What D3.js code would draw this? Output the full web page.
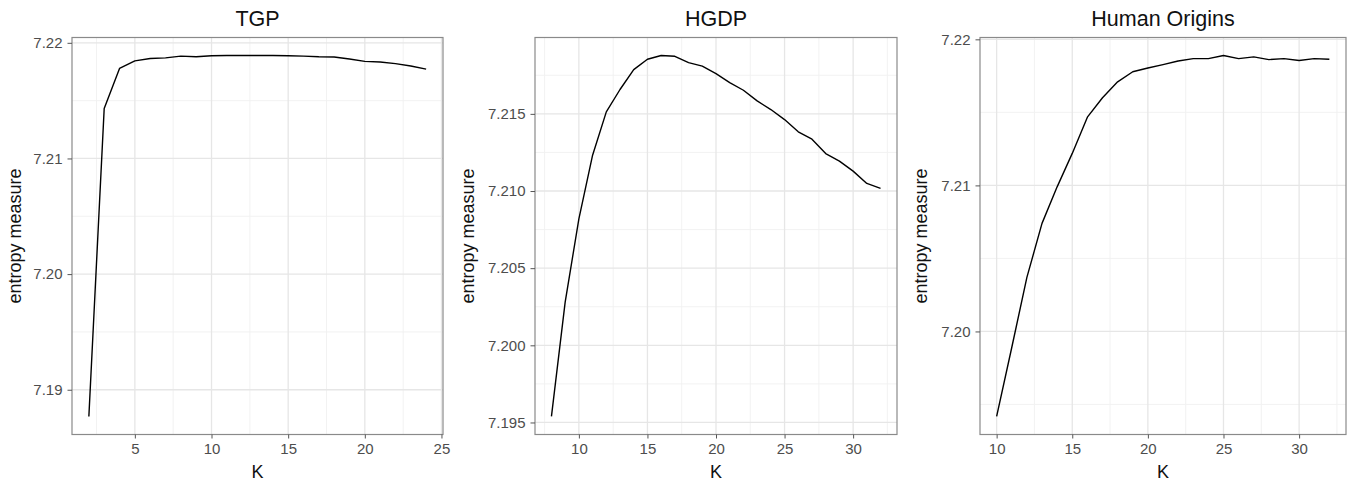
<!DOCTYPE html>
<html>
<head>
<meta charset="utf-8">
<script src="https://cdn.jsdelivr.net/npm/d3@7"></script>
<style>
  html, body { margin: 0; padding: 0; background: #fff; }
  svg { display: block; font-family: "Liberation Sans", Arial, Helvetica, sans-serif; }
</style>
</head>
<body>
<svg id="chart" width="1356" height="481"></svg>
<script>
// ---- data ----
const tgpK = [2,3,4,5,6,7,8,9,10,11,12,13,14,15,16,17,18,19,20,21,22,23,24];
const tgpEntropy = [7.18769,7.21432,7.21778,7.21844,7.21865,7.2187,7.21885,7.2188,7.21888,7.2189,7.2189,7.2189,7.2189,7.21888,7.21885,7.2188,7.21878,7.2186,7.2184,7.21834,7.2182,7.218,7.21773];

const hgdpK = [8,9,10,11,12,13,14,15,16,17,18,19,20,21,22,23,24,25,26,27,28,29,30,31,32];
const hgdpEntropy = [7.19539,7.2028,7.2082,7.21232,7.21513,7.21658,7.21787,7.21854,7.21878,7.21873,7.21832,7.21809,7.21761,7.21703,7.21653,7.21584,7.21528,7.21463,7.21384,7.21336,7.21243,7.21194,7.21129,7.21049,7.21017];

const hoK = [10,11,12,13,14,15,16,17,18,19,20,21,22,23,24,25,26,27,28,29,30,31,32];
const hoEntropy = [7.19418,7.1989,7.2037,7.2074,7.2099,7.21219,7.21467,7.216,7.21709,7.21778,7.21804,7.21827,7.21852,7.21868,7.21868,7.21889,7.21868,7.2188,7.21861,7.21868,7.21855,7.21868,7.21864];

const panelTitles = ["TGP", "HGDP", "Human Origins"];
const tgpXTicks = [5,10,15,20,25];
const tgpYTicks = [7.19,7.20,7.21,7.22];
const hgdpXTicks = [10,15,20,25,30];
const hgdpYTicks = [7.195,7.200,7.205,7.210,7.215];
const hoXTicks = [10,15,20,25,30];
const hoYTicks = [7.20,7.21,7.22];

const xTitle = "K";
const yTitle = "entropy measure";

// ---- layout ----
const panels = [
  { title: panelTitles[0], k: tgpK, v: tgpEntropy, xt: tgpXTicks, yt: tgpYTicks, yfmt: d3.format(".2f"),
    left: 72, right: 443, ytitleX: 21 },
  { title: panelTitles[1], k: hgdpK, v: hgdpEntropy, xt: hgdpXTicks, yt: hgdpYTicks, yfmt: d3.format(".3f"),
    left: 535, right: 897, ytitleX: 474 },
  { title: panelTitles[2], k: hoK, v: hoEntropy, xt: hoXTicks, yt: hoYTicks, yfmt: d3.format(".2f"),
    left: 980, right: 1346, ytitleX: 927 }
];
const panelTop = 37.5, panelBottom = 434.5;

const svg = d3.select("#chart");

function expand(ext) {
  const r = ext[1] - ext[0];
  return [ext[0] - 0.05 * r, ext[1] + 0.05 * r];
}

panels.forEach(p => {
  const x = d3.scaleLinear().domain(expand(d3.extent(p.k))).range([p.left, p.right]);
  const y = d3.scaleLinear().domain(expand(d3.extent(p.v))).range([panelBottom, panelTop]);
  const g = svg.append("g");

  // minor grid: midpoints between major ticks
  const xStep = p.xt[1] - p.xt[0];
  const yStep = p.yt[1] - p.yt[0];
  const xd = x.domain(), yd = y.domain();
  const xMinor = [];
  for (let t = p.xt[0] - xStep / 2; t <= xd[1]; t += xStep) if (t >= xd[0]) xMinor.push(t);
  const yMinor = [];
  for (let t = p.yt[0] - yStep / 2; t <= yd[1] + 1e-9; t += yStep) if (t >= yd[0]) yMinor.push(t);

  g.selectAll(".xminor").data(xMinor).enter().append("line")
    .attr("x1", d => x(d)).attr("x2", d => x(d)).attr("y1", panelTop).attr("y2", panelBottom)
    .attr("stroke", "#f1f1f1").attr("stroke-width", 0.9);
  g.selectAll(".yminor").data(yMinor).enter().append("line")
    .attr("y1", d => y(d)).attr("y2", d => y(d)).attr("x1", p.left).attr("x2", p.right)
    .attr("stroke", "#f1f1f1").attr("stroke-width", 0.9);

  // major grid
  g.selectAll(".xmajor").data(p.xt).enter().append("line")
    .attr("x1", d => x(d)).attr("x2", d => x(d)).attr("y1", panelTop).attr("y2", panelBottom)
    .attr("stroke", "#e6e6e6").attr("stroke-width", 1.3);
  g.selectAll(".ymajor").data(p.yt).enter().append("line")
    .attr("y1", d => y(d)).attr("y2", d => y(d)).attr("x1", p.left).attr("x2", p.right)
    .attr("stroke", "#e6e6e6").attr("stroke-width", 1.3);

  // line
  const line = d3.line().x((d, i) => x(p.k[i])).y(d => y(d));
  g.append("path").datum(p.v)
    .attr("d", line).attr("fill", "none").attr("stroke", "#000").attr("stroke-width", 1.4)
    .attr("stroke-linejoin", "round");

  // border
  g.append("rect").attr("x", p.left).attr("y", panelTop)
    .attr("width", p.right - p.left).attr("height", panelBottom - panelTop)
    .attr("fill", "none").attr("stroke", "#8a8a8a").attr("stroke-width", 1.2);

  // axes
  const xAxis = d3.axisBottom(x).tickValues(p.xt).tickSize(4).tickPadding(5).tickFormat(d3.format("d"));
  const gx = g.append("g").attr("transform", `translate(0,${panelBottom})`).call(xAxis);
  gx.select(".domain").remove();
  gx.selectAll(".tick line").attr("stroke", "#555");
  gx.selectAll(".tick text").attr("fill", "#4d4d4d").attr("font-size", 15)
    .attr("font-family", "Liberation Sans, Arial, sans-serif");

  const yAxis = d3.axisLeft(y).tickValues(p.yt).tickSize(4.5).tickPadding(5).tickFormat(p.yfmt);
  const gy = g.append("g").attr("transform", `translate(${p.left},0)`).call(yAxis);
  gy.select(".domain").remove();
  gy.selectAll(".tick line").attr("stroke", "#555");
  gy.selectAll(".tick text").attr("fill", "#4d4d4d").attr("font-size", 15)
    .attr("font-family", "Liberation Sans, Arial, sans-serif");

  // titles
  const cx = (p.left + p.right) / 2;
  g.append("text").attr("x", cx).attr("y", 26).attr("text-anchor", "middle")
    .attr("font-size", 21.5).attr("fill", "#111").text(p.title);
  g.append("text").attr("x", cx).attr("y", 478).attr("text-anchor", "middle")
    .attr("font-size", 18).attr("fill", "#111").text(xTitle);
  g.append("text")
    .attr("transform", `translate(${p.ytitleX},${(panelTop + panelBottom) / 2}) rotate(-90)`)
    .attr("text-anchor", "middle").attr("font-size", 18).attr("fill", "#111").text(yTitle);
});
</script>
</body>
</html>
